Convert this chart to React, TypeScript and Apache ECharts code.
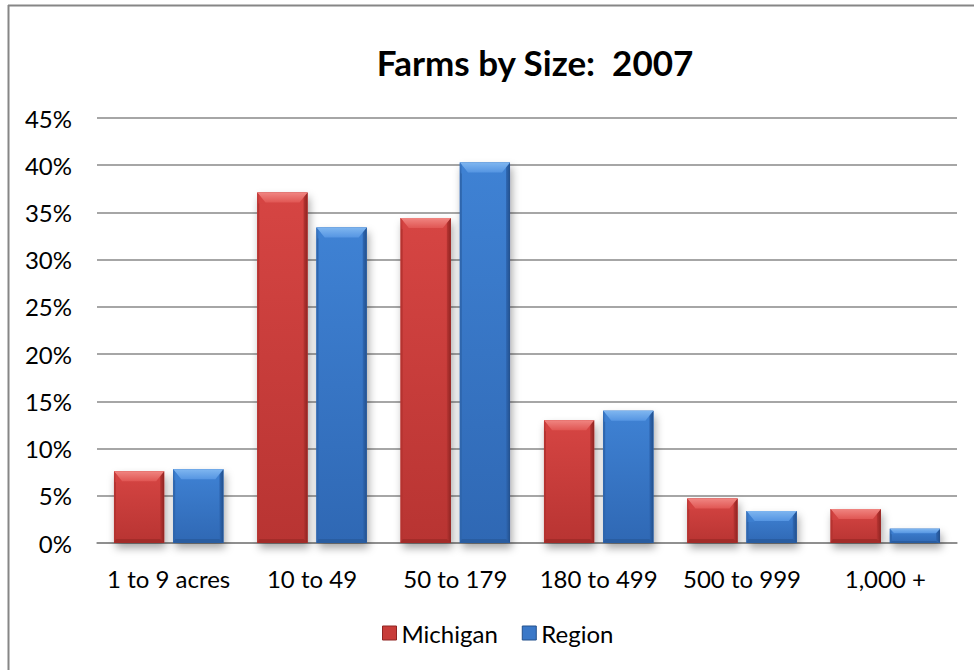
import React, { useEffect, useRef } from "react";
import * as echarts from "echarts";

const categories = ["1 to 9 acres", "10 to 49", "50 to 179", "180 to 499", "500 to 999", "1,000 +"];
const michigan = [7.6, 37.1, 34.4, 13.0, 4.7, 3.6];
const region = [7.8, 33.4, 40.3, 14.0, 3.4, 1.5];
const seriesNames = ["Michigan", "Region"];
const titleText = "Farms by Size:  2007";

const FONT = "Lato, 'Open Sans', sans-serif";

type Pal = { body1: string; body2: string; cap1: string; cap2: string; left: string; right: string; bottom: string; legend: string };
const RED: Pal = { body1: "#d64543", body2: "#b83432", cap1: "#f08581", cap2: "#e05653", left: "#b53330", right: "#8f2522", bottom: "#9e2a27", legend: "#c83c39" };
const BLUE: Pal = { body1: "#3f82d4", body2: "#2f68b4", cap1: "#7fb6f0", cap2: "#5595e2", left: "#2f66ad", right: "#23508c", bottom: "#285a9c", legend: "#3a78c8" };

function makeRender(pal: Pal, side: number) {
  return (params: any, api: any) => {
    const idx = api.value(0);
    const v = api.value(1);
    const top = api.coord([idx, v]);
    const base = api.coord([idx, 0]);
    const band = api.size([1, 0])[0];
    const barW = band * 0.35;
    const gap = band * 0.063;
    const cx = top[0] + side * (barW + gap) / 2;
    const x0 = cx - barW / 2;
    const x1 = cx + barW / 2;
    const yT = top[1];
    const yB = base[1];
    const h = yB - yT;
    const capH = Math.min(10, h * 0.32);
    const b = Math.min(8, capH * 0.9);
    const botH = Math.min(4, h * 0.15);
    return {
      type: "group",
      children: [
        {
          type: "rect",
          shape: { x: x0, y: yT, width: barW, height: h },
          style: { fill: pal.body2, shadowBlur: 8, shadowColor: "rgba(0,0,0,0.35)", shadowOffsetX: 2, shadowOffsetY: 5 },
        },
        {
          type: "rect",
          shape: { x: x0, y: yT, width: barW, height: h },
          style: {
            fill: new echarts.graphic.LinearGradient(0, 0, 0, 1, [
              { offset: 0, color: pal.body1 },
              { offset: 1, color: pal.body2 },
            ]),
          },
        },
        {
          type: "polygon",
          shape: { points: [[x0, yT], [x0 + 2, yT + 2], [x0 + 2, yB - 2], [x0, yB]] },
          style: { fill: pal.left },
        },
        {
          type: "polygon",
          shape: { points: [[x1, yT], [x1 - 4, yT + 4], [x1 - 4, yB - 3], [x1, yB]] },
          style: {
            fill: new echarts.graphic.LinearGradient(0, 0, 1, 0, [
              { offset: 0, color: pal.body2 },
              { offset: 1, color: pal.right },
            ]),
          },
        },
        {
          type: "polygon",
          shape: { points: [[x0, yB], [x0 + 2, yB - botH], [x1 - 4, yB - botH], [x1, yB]] },
          style: { fill: pal.bottom, opacity: 0.8 },
        },
        {
          type: "polygon",
          shape: { points: [[x0, yT], [x1, yT], [x1 - b, yT + capH], [x0 + b, yT + capH]] },
          style: {
            fill: new echarts.graphic.LinearGradient(0, 0, 0, 1, [
              { offset: 0, color: pal.cap1 },
              { offset: 1, color: pal.cap2 },
            ]),
          },
        },
        {
          type: "polygon",
          shape: { points: [[x0, yT], [x0 + b, yT + capH], [x0 + b, yT + capH + 1], [x0 + 1, yT + capH + 1]] },
          style: { fill: pal.body1, opacity: 0.6 },
        },
      ],
    };
  };
}

export default function App() {
  const ref = useRef<HTMLDivElement>(null);
  useEffect(() => {
    document.body.style.margin = "0";
    const chart = echarts.init(ref.current!, undefined, { renderer: "svg" });
    const mk = (name: string, values: number[], pal: Pal, side: number) => ({
      name,
      type: "custom",
      renderItem: makeRender(pal, side),
      data: values.map((v, i) => [i, v]),
      encode: { x: 0, y: 1 },
      itemStyle: { color: pal.legend },
      z: 3,
    });
    chart.setOption({
      animation: false,
      backgroundColor: "#ffffff",
      textStyle: { fontFamily: FONT, color: "#000" },
      grid: { left: 97, right: 17, top: 118, bottom: 127, containLabel: false },
      xAxis: {
        type: "category",
        data: categories,
        axisLine: { show: true, lineStyle: { color: "#888", width: 1.5 } },
        axisTick: { show: false },
        axisLabel: { fontSize: 24, color: "#000", fontFamily: FONT, margin: 23, interval: 0 },
        splitLine: { show: false },
      },
      yAxis: {
        type: "value",
        min: 0,
        max: 45,
        interval: 5,
        axisLine: { show: false },
        axisTick: { show: false },
        axisLabel: { fontSize: 24, color: "#000", fontFamily: FONT, margin: 25, formatter: "{value}%" },
        splitLine: { show: true, lineStyle: { color: "#888", width: 1.5 } },
      },
      legend: {
        data: seriesNames.map((n, i) => ({ name: n, icon: "rect", itemStyle: { color: i === 0 ? RED.legend : BLUE.legend, borderColor: i === 0 ? RED.right : BLUE.right, borderWidth: 1 } })),
        left: 377,
        top: 616,
        itemWidth: 14,
        itemHeight: 14,
        itemGap: 24,
        textStyle: { fontSize: 24, color: "#000", fontFamily: FONT },
      },
      graphic: [
        {
          type: "text",
          x: 535,
          y: 62,
          style: { text: titleText, fontSize: 35, fontWeight: "bold", fontFamily: FONT, fill: "#000", textAlign: "center", textVerticalAlign: "middle" },
        },
        { type: "line", shape: { x1: 8, y1: 5.5, x2: 974, y2: 5.5 }, style: { stroke: "#868686", lineWidth: 2 } },
        { type: "line", shape: { x1: 8.5, y1: 5, x2: 8.5, y2: 670 }, style: { stroke: "#868686", lineWidth: 2 } },
      ],
      series: [mk(seriesNames[0], michigan, RED, -1), mk(seriesNames[1], region, BLUE, 1)],
    });
    return () => chart.dispose();
  }, []);
  return <div ref={ref} style={{ width: 974, height: 670 }} />;
}
